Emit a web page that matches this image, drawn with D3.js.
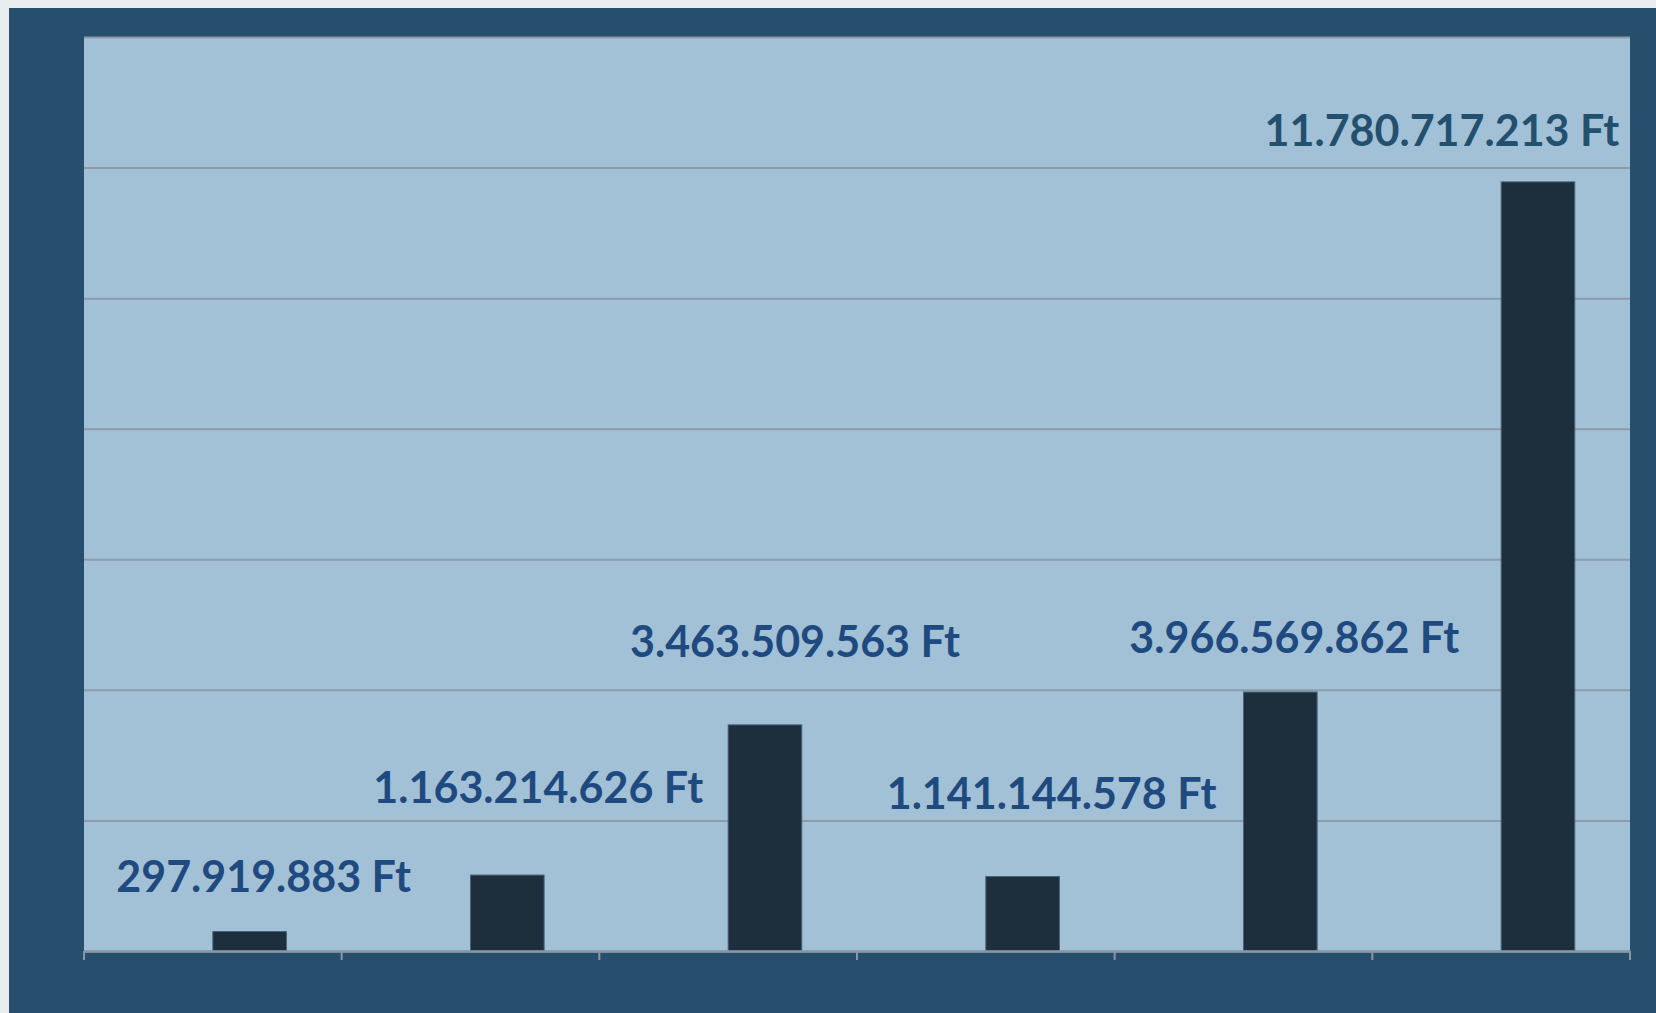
<!DOCTYPE html>
<html>
<head>
<meta charset="utf-8">
<script src="https://cdn.jsdelivr.net/npm/d3@7"></script>
<style>
  html, body { margin: 0; padding: 0; background: #e9edf0; overflow: hidden; }
  svg { display: block; }
</style>
</head>
<body>
<svg id="chart" width="1656" height="1013"></svg>
<script>
// ---- data ----
const categories = ["A", "B", "C", "D", "E", "F"];
const values = [297919883, 1163214626, 3463509563, 1141144578, 3966569862, 11780717213];
const labels = ["297.919.883 Ft", "1.163.214.626 Ft", "3.463.509.563 Ft", "1.141.144.578 Ft", "3.966.569.862 Ft", "11.780.717.213 Ft"];
const yTicks = [0, 2e9, 4e9, 6e9, 8e9, 10e9, 12e9, 14e9];

// ---- layout (manual label nudges as in the original) ----
const labelNudgeX = [14, 31, 30, 29, 14, -96];
const labelNudgeY = [-40, -72, -68, -67, -39, -36];

const W = 1656, H = 1013;
const plot = { left: 84, top: 37, right: 1630, bottom: 951 };

const svg = d3.select("#chart");

// outer dark panel
svg.append("rect").attr("x", 9).attr("y", 8).attr("width", W - 9).attr("height", H - 8).attr("fill", "#264f6e");

// plot area
svg.append("rect")
  .attr("x", plot.left).attr("y", plot.top)
  .attr("width", plot.right - plot.left).attr("height", plot.bottom - plot.top)
  .attr("fill", "#a3c1d6");

const x = d3.scaleBand().domain(categories).range([plot.left, plot.right]).padding(0);
const y = d3.scaleLinear().domain([0, 14e9]).range([plot.bottom, plot.top]);

// gridlines
const grid = d3.axisLeft(y).tickValues(yTicks).tickSize(-(plot.right - plot.left)).tickFormat("");
const gg = svg.append("g").attr("transform", `translate(${plot.left},0)`).call(grid);
gg.select(".domain").remove();
gg.selectAll(".tick line").attr("stroke", "#8e9aa8").attr("stroke-width", 2);

// bars: second series of a 2-series cluster, gap width 150%
const barW = x.bandwidth() / 3.5;
svg.append("g").selectAll("rect").data(values).join("rect")
  .attr("x", (d, i) => x(categories[i]) + x.bandwidth() / 2)
  .attr("y", d => y(d))
  .attr("width", barW)
  .attr("height", d => y(0) - y(d))
  .attr("fill", "#1d2e3c")
  .attr("stroke", "#4a6275")
  .attr("stroke-width", 1);

// x axis
const xAxis = d3.axisBottom(x).tickFormat("").tickSize(0);
const xg = svg.append("g").attr("transform", `translate(0,${plot.bottom})`).call(xAxis);
xg.select(".domain").attr("stroke", "#8a96a3").attr("stroke-width", 2.5);
xg.selectAll(".tick").remove();
const boundaries = categories.map(c => x(c)).concat([plot.right]);
xg.selectAll("line.bt").data(boundaries).join("line").attr("class", "bt")
  .attr("x1", d => d).attr("x2", d => d)
  .attr("y1", 0).attr("y2", 9)
  .attr("stroke", "#8a96a3").attr("stroke-width", 2);

// data labels
svg.append("g").selectAll("text").data(values).join("text")
  .attr("x", (d, i) => x(categories[i]) + x.bandwidth() / 2 + barW / 2 + labelNudgeX[i])
  .attr("y", (d, i) => y(d) + labelNudgeY[i])
  .attr("text-anchor", "middle")
  .attr("font-family", "Lato, 'Open Sans', sans-serif")
  .attr("font-weight", "bold")
  .attr("font-size", 43)
  .attr("fill", (d, i) => i === values.length - 1 ? "#24506f" : "#1f4a80")
  .text((d, i) => labels[i]);
</script>
</body>
</html>
